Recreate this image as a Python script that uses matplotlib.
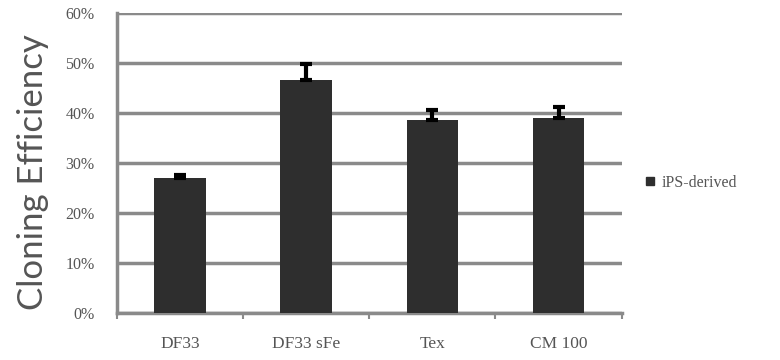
import numpy as np
import matplotlib
matplotlib.use('Agg')
import matplotlib.pyplot as plt
from matplotlib.lines import Line2D

# cloning efficiency per medium (percent), with upper error
media = ['DF33', 'DF33 sFe', 'Tex', 'CM 100']
efficiency = [27.0, 46.6, 38.6, 39.0]
err_up = [0.6, 3.2, 2.0, 2.2]
yticks = [0, 10, 20, 30, 40, 50, 60]
legend_label = 'iPS-derived'

bar_color = '#2e2e2e'
grid_color = '#8a8a8a'
text_color = '#555555'

fig = plt.figure(figsize=(7.8, 3.6), dpi=100)
ax = fig.add_axes([0.15, 0.131, 0.647, 0.833])

x = np.arange(len(media))
ax.bar(x, efficiency, width=0.41, color=bar_color, zorder=3)
ax.errorbar(x, efficiency, yerr=[np.zeros(len(err_up)), err_up], fmt='none',
            ecolor='black', elinewidth=3, capsize=4, capthick=3, zorder=4)

ax.set_xlim(-0.5, len(media) - 0.5)
ax.set_ylim(0, 60)
ax.set_yticks(yticks)
ax.set_yticklabels(['%d%%' % v for v in yticks])
ax.yaxis.grid(True, color=grid_color, linewidth=2.5, zorder=0)

# category boundary ticks on the x axis
ax.set_xticks(np.arange(-0.5, len(media), 1.0))
ax.set_xticklabels([])
ax.set_xticks(x, minor=True)
ax.set_xticklabels(media, minor=True)
ax.tick_params(axis='x', which='major', length=4, width=1.5, color=grid_color)
ax.tick_params(axis='x', which='minor', length=0, pad=17,
               labelsize=12.5, labelcolor=text_color)
ax.tick_params(axis='y', length=0, pad=16, labelsize=11.5, labelcolor=text_color)
for lab in ax.get_xticklabels(minor=True) + ax.get_yticklabels():
    lab.set_family('Liberation Serif')

for side in ['top', 'right']:
    ax.spines[side].set_visible(False)
ax.spines['left'].set_color(grid_color)
ax.spines['left'].set_linewidth(2.5)
ax.spines['bottom'].set_color(grid_color)
ax.spines['bottom'].set_linewidth(2.5)

fig.text(33 / 780, 1 - 172 / 360, 'Cloning Efficiency', rotation=90,
         ha='center', va='center', fontsize=25, color=text_color, family='Lato')

handle = Line2D([], [], marker='s', linestyle='none', color=bar_color,
                markersize=6)
leg = ax.legend([handle], [legend_label], loc='center left',
                bbox_to_anchor=(1.015, 0.433), frameon=False, fontsize=11.5,
                handletextpad=0.3, handlelength=0.8)
for t in leg.get_texts():
    t.set_color(text_color)
    t.set_family('Liberation Serif')

fig.savefig('out.png', dpi=100)
